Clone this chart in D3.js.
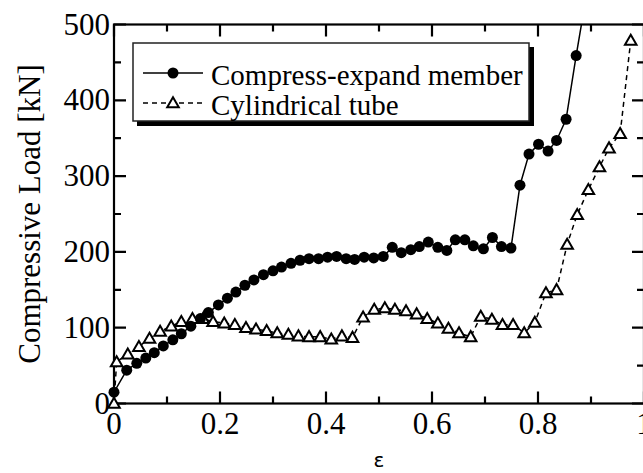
<!DOCTYPE html>
<html>
<head>
    <title>Compressive Load</title>
    <script src="https://d3js.org/d3.v7.min.js"></script>
    <style>
        body { margin: 0; background: #fff; }
        svg { display: block; }
        .tick-label { font-family: "Liberation Serif", "Times New Roman", serif; font-size: 31px; fill: #000; }
        .legend-text { font-family: "Liberation Serif", "Times New Roman", serif; font-size: 29px; fill: #000; }
    </style>
</head>
<body>
    <svg id="chart" width="643" height="473"></svg>

    <script>
        // strain values and loads
        var compressX = [0.0, 0.024, 0.043, 0.060, 0.076, 0.093, 0.111, 0.127, 0.145, 0.163, 0.178, 0.197, 0.214, 0.230,
            0.247, 0.264, 0.282, 0.300, 0.316, 0.334, 0.351, 0.368, 0.386, 0.403, 0.420, 0.438, 0.454, 0.472,
            0.490, 0.508, 0.525, 0.542, 0.560, 0.576, 0.593, 0.611, 0.628, 0.644, 0.662, 0.678, 0.697, 0.714,
            0.731, 0.749, 0.766, 0.783, 0.801, 0.819, 0.835, 0.853, 0.872, 0.888];
        var compressY = [15, 44, 53, 60, 67, 76, 84, 92, 102, 112, 120, 130, 139, 147,
            156, 163, 170, 175, 180, 185, 189, 191, 191, 193, 194, 191, 190, 193,
            192, 194, 206, 199, 203, 207, 213, 206, 202, 216, 216, 208, 204, 219,
            207, 205, 288, 329, 342, 333, 347, 375, 459, 525];

        var tubeX = [0, 0.005, 0.026, 0.047, 0.067, 0.087, 0.108, 0.127, 0.148, 0.168, 0.187, 0.208, 0.228, 0.249,
            0.268, 0.288, 0.308, 0.329, 0.348, 0.368, 0.389, 0.410, 0.430, 0.450, 0.470, 0.491, 0.511, 0.530,
            0.551, 0.571, 0.591, 0.611, 0.631, 0.651, 0.673, 0.692, 0.713, 0.733, 0.753, 0.774, 0.794, 0.815,
            0.835, 0.855, 0.874, 0.895, 0.916, 0.934, 0.955, 0.975];
        var tubeY = [0, 55, 65, 75, 86, 95, 102, 108, 112, 112, 108, 106, 104, 100,
            98, 96, 93, 91, 89, 88, 88, 85, 89, 87, 114, 124, 126, 124,
            122, 118, 112, 106, 99, 93, 88, 115, 111, 104, 104, 93, 107, 146,
            150, 210, 249, 282, 312, 337, 356, 479];

        var xTickLabels = [0, 0.2, 0.4, 0.6, 0.8, 1];
        var yTickLabels = [0, 100, 200, 300, 400, 500];
        var seriesNames = ["Compress-expand member", "Cylindrical tube"];

        var svg = d3.select("#chart");
        // the right edge of the frame sits just past the window
        var plotLeft = 114, plotRight = 644, plotTop = 24.5, plotBottom = 403.5;

        var x = d3.scaleLinear().domain([0, 1]).range([plotLeft, plotRight]);
        var y = d3.scaleLinear().domain([0, 500]).range([plotBottom, plotTop]);

        svg.append("rect").attr("width", 643).attr("height", 473).attr("fill", "#fff");

        svg.append("clipPath").attr("id", "plot-clip")
            .append("rect")
            .attr("x", plotLeft).attr("y", plotTop)
            .attr("width", plotRight - plotLeft).attr("height", plotBottom - plotTop);

        svg.append("rect")
            .attr("x", plotLeft).attr("y", plotTop)
            .attr("width", plotRight - plotLeft).attr("height", plotBottom - plotTop)
            .attr("fill", "none").attr("stroke", "#000").attr("stroke-width", 2.2);

        // inward ticks on all four sides, longer at labelled values
        var xTicks = x.ticks(10);
        var yTicks = y.ticks(10);
        function xLen(d) { return Math.abs(d * 5 - Math.round(d * 5)) < 1e-6 ? 12 : 7; }
        function yLen(d) { return d % 100 === 0 ? 12 : 7; }

        var tickPath = "";
        xTicks.forEach(function(d) {
            var px = x(d);
            tickPath += "M" + px + "," + plotBottom + "V" + (plotBottom - xLen(d));
            tickPath += "M" + px + "," + plotTop + "V" + (plotTop + xLen(d));
        });
        yTicks.forEach(function(d) {
            var py = y(d);
            tickPath += "M" + plotLeft + "," + py + "H" + (plotLeft + yLen(d));
            tickPath += "M" + plotRight + "," + py + "H" + (plotRight - yLen(d));
        });
        svg.append("path")
            .attr("d", tickPath)
            .style("fill", "none")
            .style("stroke", "#000")
            .style("stroke-width", "2.2px");

        // tick labels
        svg.selectAll(".xlab").data(xTickLabels).enter().append("text")
            .attr("class", "tick-label")
            .attr("x", function(d) { return x(d); })
            .attr("y", 434)
            .attr("text-anchor", "middle")
            .text(function(d) { return d; });

        svg.selectAll(".ylab").data(yTickLabels).enter().append("text")
            .attr("class", "tick-label")
            .attr("x", 110)
            .attr("y", function(d) { return y(d) + 10; })
            .attr("text-anchor", "end")
            .text(function(d) { return d; });

        svg.append("text")
            .attr("class", "tick-label")
            .attr("transform", "translate(40,214) rotate(-90)")
            .attr("text-anchor", "middle")
            .text("Compressive Load [kN]");

        svg.append("text")
            .attr("x", 379).attr("y", 467)
            .attr("text-anchor", "middle")
            .style("font-family", "DejaVu Sans, sans-serif")
            .style("font-size", "20px")
            .text("ε");

        // series
        var compress = compressX.map(function(d, i) { return [d, compressY[i]]; });
        var tube = tubeX.map(function(d, i) { return [d, tubeY[i]]; });
        var line = d3.line().x(function(d) { return x(d[0]); }).y(function(d) { return y(d[1]); });
        var tri = d3.symbol().type(d3.symbolTriangle).size(58);

        var plot = svg.append("g").attr("clip-path", "url(#plot-clip)");

        plot.append("path").datum(tube)
            .attr("d", line).attr("fill", "none")
            .attr("stroke", "#000").attr("stroke-width", 1.5).attr("stroke-dasharray", "5,4");

        plot.append("path").datum(compress)
            .attr("d", line).attr("fill", "none")
            .attr("stroke", "#000").attr("stroke-width", 1.5);

        svg.append("g").selectAll(".tri").data(tube).enter().append("path")
            .attr("transform", function(d) { return "translate(" + x(d[0]) + "," + (y(d[1]) + 1) + ")"; })
            .attr("d", tri)
            .attr("fill", "#fff").attr("stroke", "#000").attr("stroke-width", 2);

        svg.append("g").selectAll("circle").data(compress.filter(function(d) { return d[1] <= 500; }))
            .enter().append("circle")
            .attr("cx", function(d) { return x(d[0]); })
            .attr("cy", function(d) { return y(d[1]); })
            .attr("r", 5.5)
            .attr("fill", "#000");

        // legend with drop shadow
        var legend = svg.append("g");
        legend.append("rect").attr("x", 137).attr("y", 47).attr("width", 397).attr("height", 79).attr("fill", "#000");
        legend.append("rect").attr("x", 133).attr("y", 43).attr("width", 396).attr("height", 78)
            .attr("fill", "#fff").attr("stroke", "#222").attr("stroke-width", 1.5);

        var rows = [73, 103];
        legend.append("line").attr("x1", 143).attr("x2", 203).attr("y1", rows[0]).attr("y2", rows[0])
            .attr("stroke", "#000").attr("stroke-width", 1.5);
        legend.append("circle").attr("cx", 173).attr("cy", rows[0]).attr("r", 5.5).attr("fill", "#000");
        legend.append("line").attr("x1", 143).attr("x2", 203).attr("y1", rows[1]).attr("y2", rows[1])
            .attr("stroke", "#000").attr("stroke-width", 1.5).attr("stroke-dasharray", "5,4");
        legend.append("path").attr("transform", "translate(173," + (rows[1] + 1) + ")").attr("d", tri)
            .attr("fill", "#fff").attr("stroke", "#000").attr("stroke-width", 2);

        legend.selectAll(".legend-text").data(seriesNames).enter().append("text")
            .attr("class", "legend-text")
            .attr("x", 211)
            .attr("y", function(d, i) { return rows[i] + 12; })
            .text(function(d) { return d; });
    </script>
</body>
</html>
